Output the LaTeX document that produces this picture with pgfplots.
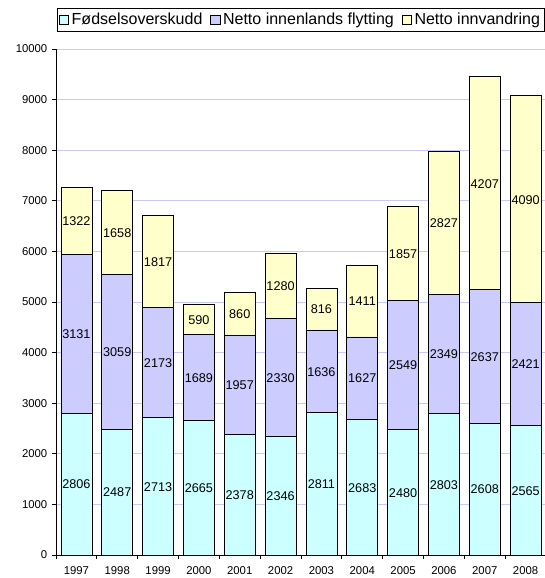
\documentclass[border=0pt]{standalone}
\usepackage{pgfplots}
\pgfplotsset{compat=1.18}
\usepackage{fontspec}
\setmainfont{Liberation Sans}

\definecolor{fodsel}{RGB}{204,255,255}
\definecolor{innenl}{RGB}{204,204,255}
\definecolor{innv}{RGB}{255,255,204}
\definecolor{gridc}{RGB}{200,200,250}

% labels centred inside each stacked segment
\makeatletter
\pgfplotsset{
  midlabels/.style={
    nodes near coords,
    every node near coord/.append style={
      font=\fontsize{9.5}{10.5}\selectfont, text=black, anchor=center,
      /pgfplots/halfoffset/.code={%
        \pgfkeys{/pgf/fpu=true,/pgf/fpu/output format=fixed}%
        \pgfmathsetmacro\halfseg{\pgfplotspointmeta*10^\pgfplots@data@scale@trafo@EXPONENT@y*\pgfplots@y@veclength/2}%
        \pgfkeys{/pgf/fpu=false}},
      /pgfplots/halfoffset,
      yshift=-\halfseg
    }
  }
}
\makeatother

\begin{document}
\begin{tikzpicture}
\begin{axis}[
  scale only axis, width=367.5pt, height=379.5pt,
  at={(0,0)}, anchor=south west,
  ybar stacked, bar width=0.76,
  xmin=-0.5, xmax=11.5, ymin=0, ymax=10000,
  xtick={0,...,11},
  xticklabels={1997,1998,1999,2000,2001,2002,2003,2004,2005,2006,2007,2008},
  major x tick style={draw=none},
  minor xtick={-0.5,0.5,...,11.5},
  ytick={0,1000,...,10000},
  scaled y ticks=false,
  axis x line*=bottom, axis y line*=left,
  axis line style={line width=0.6pt, -},
  tick align=outside, major tick length=3pt, minor tick length=3pt,
  tick style={black, line width=0.6pt},
  ymajorgrids, grid style={gridc, line width=0.6pt},
  ticklabel style={font=\fontsize{8.5}{9.5}\selectfont},
  xticklabel style={yshift=-2pt},
  /pgf/number format/assume math mode=true,
  /pgf/number format/1000 sep={},
  legend style={at={(0.998,1.081)}, anchor=north east, legend columns=-1,
    draw=black, line width=0.6pt, font=\fontsize{12}{13.5}\selectfont,
    inner sep=1.5pt,
    /tikz/every even column/.append style={column sep=4pt}},
  legend image code/.code={\draw[#1,draw=black,line width=0.5pt] (0pt,-3.5pt) rectangle (7pt,3.5pt);},
  midlabels,
]
\addplot[fill=fodsel, draw=black, line width=0.6pt] coordinates {
  (0,2806) (1,2487) (2,2713) (3,2665) (4,2378) (5,2346)
  (6,2811) (7,2683) (8,2480) (9,2803) (10,2608) (11,2565)};
\addplot[fill=innenl, draw=black, line width=0.6pt] coordinates {
  (0,3131) (1,3059) (2,2173) (3,1689) (4,1957) (5,2330)
  (6,1636) (7,1627) (8,2549) (9,2349) (10,2637) (11,2421)};
\addplot[fill=innv, draw=black, line width=0.6pt] coordinates {
  (0,1322) (1,1658) (2,1817) (3,590) (4,860) (5,1280)
  (6,816) (7,1411) (8,1857) (9,2827) (10,4207) (11,4090)};
\legend{Fødselsoverskudd, Netto innenlands flytting, Netto innvandring}
\end{axis}
\pgfresetboundingbox
\useasboundingbox (-42pt,-17.25pt) rectangle (366.75pt,416.25pt);
\end{tikzpicture}
\end{document}
